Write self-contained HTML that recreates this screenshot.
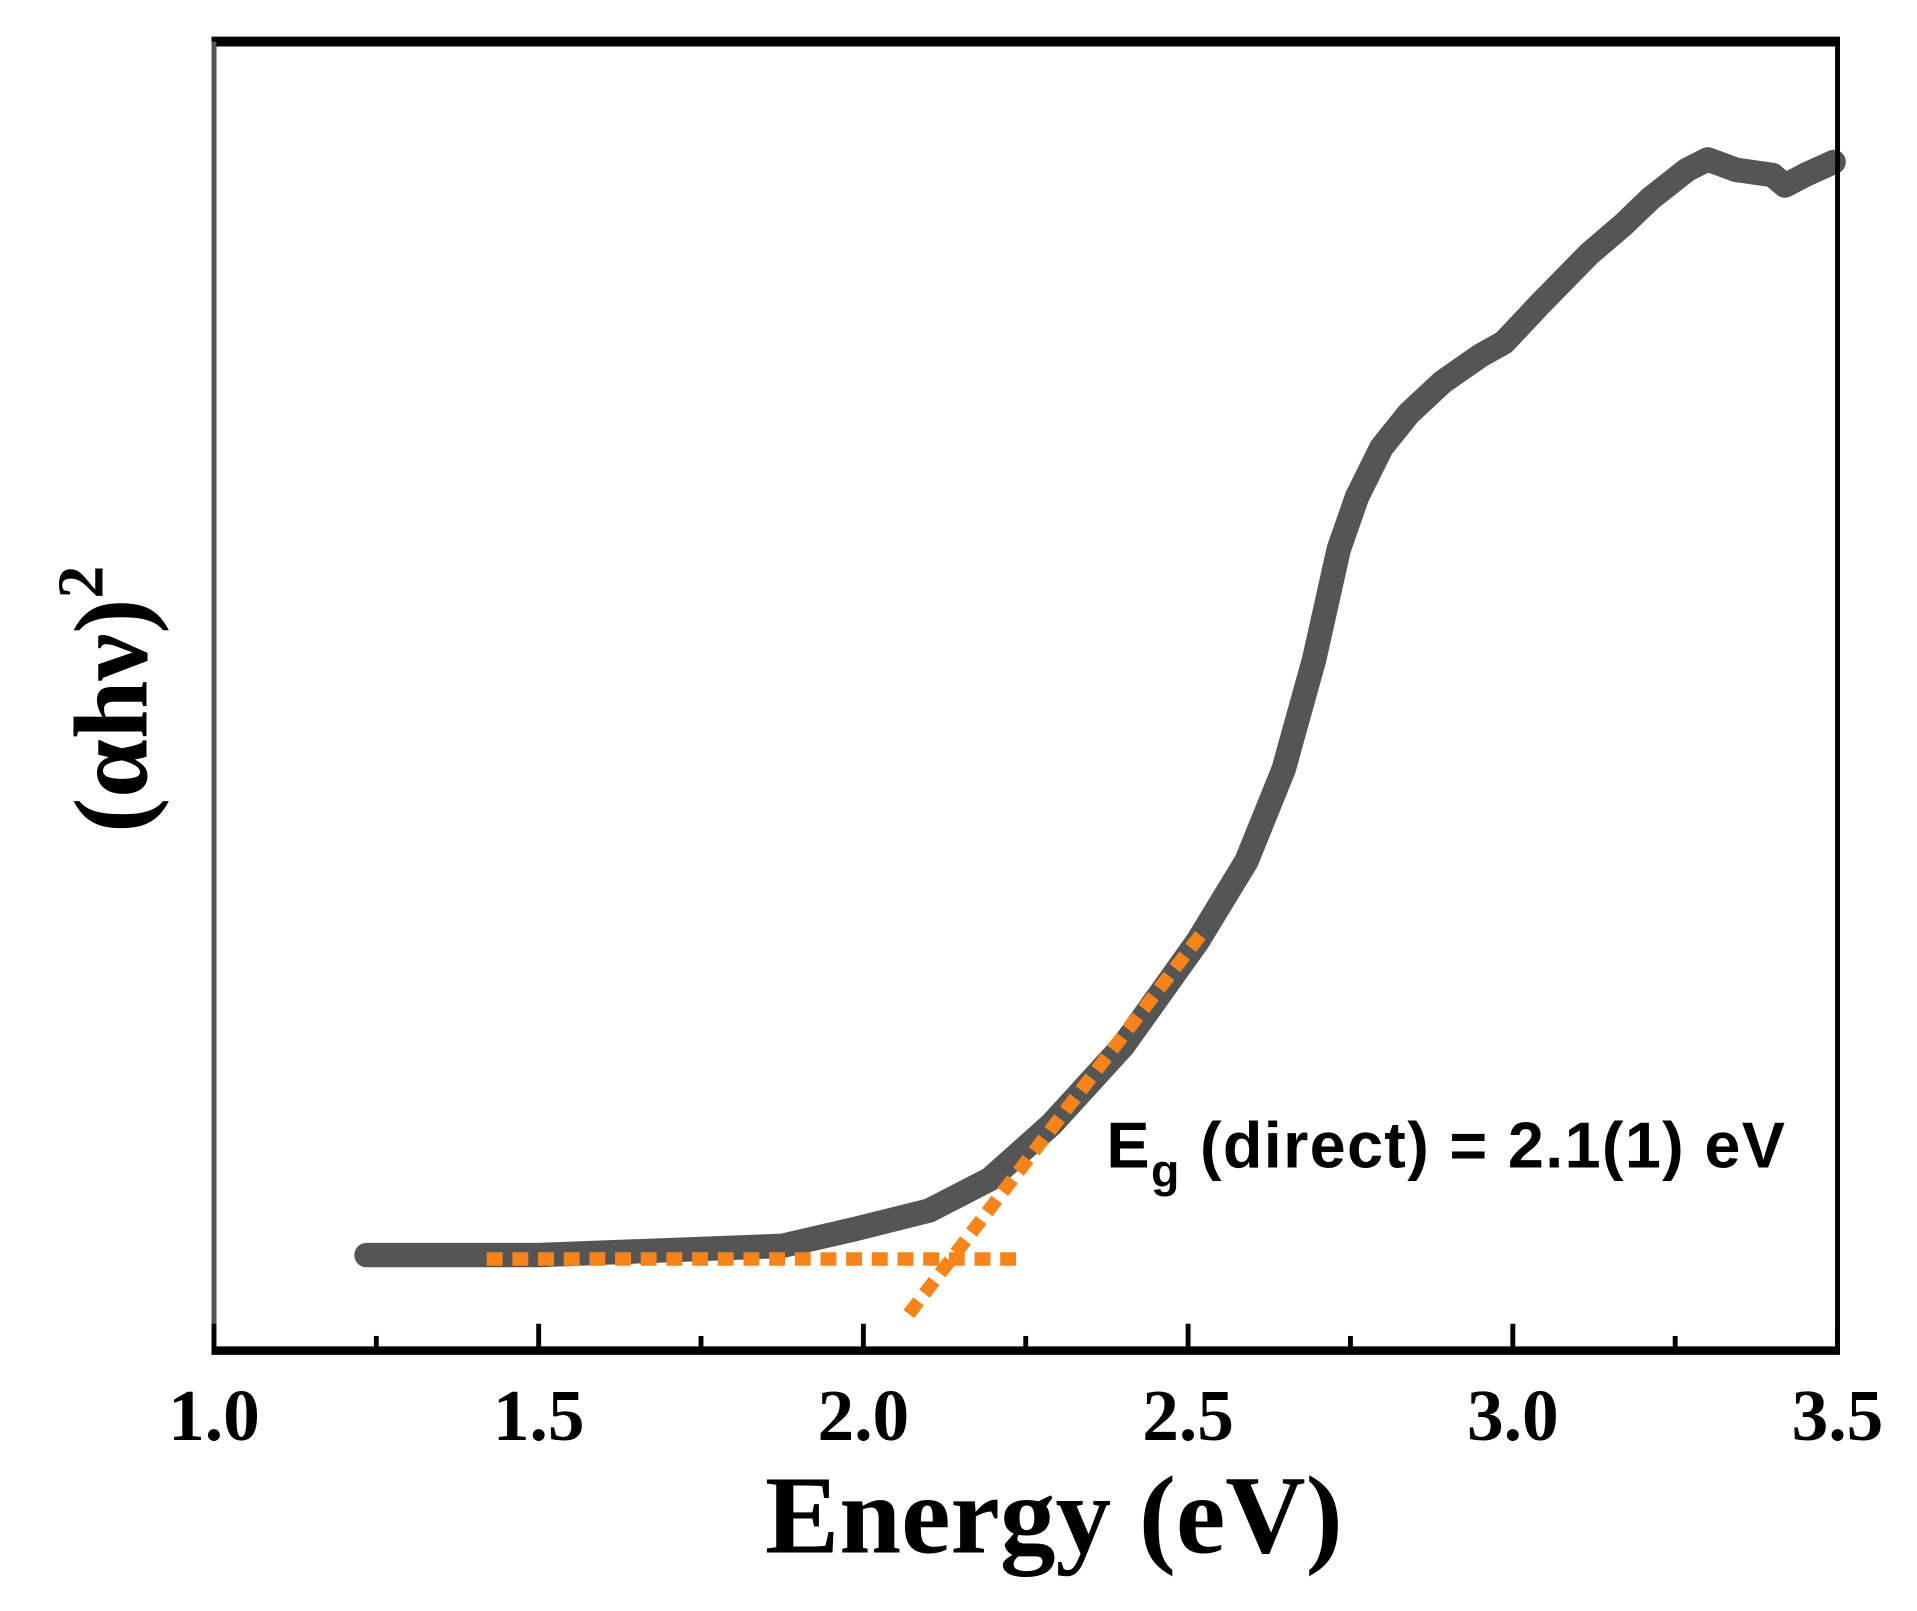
<!DOCTYPE html>
<html><head><meta charset="utf-8"><style>
html,body{margin:0;padding:0;background:#fff;}
svg{display:block;}
</style></head><body>
<svg id="chart" width="1917" height="1611" viewBox="0 0 1568 1318" preserveAspectRatio="none" xmlns="http://www.w3.org/2000/svg">
<rect x="0" y="0" width="1568" height="1318" fill="#fff"/>
<g id="plot"></g>
<g id="frame"></g>
<g id="ticks"></g>
<text transform="translate(120,572) rotate(-90)" text-anchor="middle" font-family="Liberation Serif, serif" font-weight="bold" font-size="86">(αhν)<tspan font-size="54" dy="-36">2</tspan></text>
<text x="862" y="1270" text-anchor="middle" font-family="Liberation Serif, serif" font-weight="bold" font-size="91">Energy (eV)</text>
<text x="905" y="955" font-family="Liberation Sans, sans-serif" font-weight="bold" font-size="53" textLength="555">E<tspan font-size="38" dy="16">g</tspan><tspan dy="-16"> (direct) = 2.1(1) eV</tspan></text>
</svg>
<script>
const energy = [1.235,1.5,1.875,1.988,2.101,2.195,2.29,2.40,2.515,2.59,2.647,2.694,2.732,2.76,2.798,2.84,2.892,2.95,2.986,3.043,3.118,3.17,3.212,3.268,3.30,3.344,3.40,3.419,3.45,3.494];
const absorb = [0.073,0.073,0.080,0.093,0.107,0.131,0.173,0.233,0.313,0.374,0.444,0.528,0.612,0.652,0.690,0.716,0.740,0.760,0.770,0.800,0.838,0.860,0.880,0.902,0.910,0.902,0.898,0.890,0.898,0.908];
const xTicks = [1.0,1.5,2.0,2.5,3.0,3.5];
const xTickLabels = ["1.0","1.5","2.0","2.5","3.0","3.5"];
const minorTicks = [1.25,1.75,2.25,2.75,3.25];
const baselineFit = [[1.42,0.070],[2.25,0.070]];
const slopeFit = [[2.07,0.028],[2.52,0.318]];

const L=175,R=1503,T=34,B=1105;
const sx=e=>L+(e-1.0)/(3.5-1.0)*(R-L);
const sy=v=>B-v*(B-T);
const NS="http://www.w3.org/2000/svg";
function mk(tag,attrs,parent){const el=document.createElementNS(NS,tag);for(const k in attrs)el.setAttribute(k,attrs[k]);parent.appendChild(el);return el;}
const plot=document.getElementById('plot');
let d=energy.map((e,i)=>(i?'L':'M')+sx(e).toFixed(1)+','+sy(absorb[i]).toFixed(1)).join(' ');
const line=mk('path',{d:d,fill:'none',stroke:'#555','stroke-width':20,'stroke-linecap':'round','stroke-linejoin':'round'},plot);


const f1=mk('line',{x1:sx(baselineFit[0][0]),y1:sy(baselineFit[0][1]),x2:sx(baselineFit[1][0]),y2:sy(baselineFit[1][1]),stroke:'#f7841a','stroke-width':11,'stroke-dasharray':'13 8'},plot);


const f2=mk('line',{x1:sx(slopeFit[0][0]),y1:sy(slopeFit[0][1]),x2:sx(slopeFit[1][0]),y2:sy(slopeFit[1][1]),stroke:'#f7841a','stroke-width':11,'stroke-dasharray':'13 8'},plot);


const frame=document.getElementById('frame');
const fr=mk('rect',{x:L,y:T,width:R-L,height:B-T,fill:'none',stroke:'#000','stroke-width':4},frame);


mk('line',{x1:L-2,y1:T,x2:R+2,y2:T,stroke:'#000','stroke-width':8},frame);
mk('line',{x1:L-2,y1:B,x2:R+2,y2:B,stroke:'#000','stroke-width':7},frame);
mk('line',{x1:L,y1:T,x2:L,y2:B,stroke:'#555','stroke-width':4},frame);
const ticks=document.getElementById('ticks');
xTicks.forEach((t,i)=>{
  const tk=mk('line',{x1:sx(t),y1:B,x2:sx(t),y2:B-22,stroke:'#000','stroke-width':4},ticks);
  
  
  const tx=mk('text',{x:sx(t),y:1178,'text-anchor':'middle','font-family':'Liberation Serif, serif','font-weight':'bold','font-size':60},ticks);
  tx.textContent=xTickLabels[i];
  
  
});
minorTicks.forEach(t=>{
  const tk=mk('line',{x1:sx(t),y1:B,x2:sx(t),y2:B-12,stroke:'#000','stroke-width':4},ticks);
  
  
});
</script>
</body></html>
